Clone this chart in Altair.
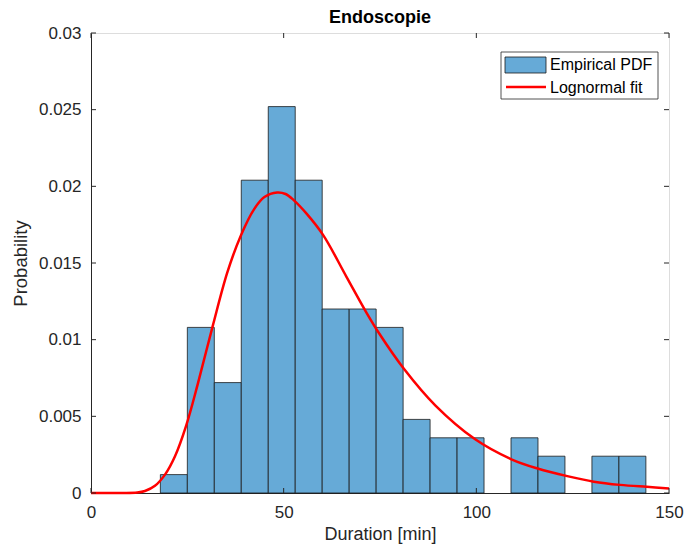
import altair as alt
import pandas as pd

# ---- data ----
bin_left = [18, 25, 32, 39, 46, 53, 60, 67, 74, 81, 88, 95, 102, 109, 116, 123, 130, 137]
bin_width = 7
pdf_values = [0.0012, 0.0108, 0.0072, 0.0204, 0.0252, 0.0204, 0.0120, 0.0120, 0.0108,
              0.0048, 0.0036, 0.0036, 0.0, 0.0036, 0.0024, 0.0, 0.0024, 0.0024]

fit_x = [0, 8, 12, 14, 16.6, 19.2, 21.8, 24.7, 27.7, 31.6, 35.4, 38.9, 42.3, 45, 48.3,
         50.5, 52.6, 56, 60.3, 66.3, 71.4, 74.8, 81.2, 89.4, 99.7, 109.1, 115.9, 123.6,
         130.5, 137.3, 144.2, 150]
fit_y = [0, 0, 0.00003, 0.00013, 0.00047, 0.0012, 0.0024, 0.0044, 0.0071, 0.0109, 0.0144,
         0.0168, 0.0185, 0.0193, 0.0196, 0.0195, 0.0191, 0.0182, 0.0168, 0.0141, 0.0118,
         0.0104, 0.0081, 0.0057, 0.0035, 0.0022, 0.0016, 0.0011, 0.00074, 0.00053, 0.0004,
         0.0003]

y_ticks = [0, 0.005, 0.01, 0.015, 0.02, 0.025, 0.03]
x_ticks = [0, 50, 100, 150]
legend_labels = ["Empirical PDF", "Lognormal fit"]

title_text = "Endoscopie"
x_title = "Duration [min]"
y_title = "Probability"

# ---- styling ----
FONT = "Liberation Sans"
AX = "#262626"
BAR = "#66AAD7"
RED = "#FF0000"
W, H = 578, 460
PAD_L, PAD_T = 83, 25
PAD_R = 676 - PAD_L - W
PAD_B = 536 - PAD_T - H

bars = pd.DataFrame({
    "x0": bin_left,
    "x1": [b + bin_width for b in bin_left],
    "p": pdf_values,
})
bars = bars[bars["p"] > 0]
fit = pd.DataFrame({"x": fit_x, "y": fit_y})

xscale = alt.Scale(domain=[0, 150], nice=False, zero=False, padding=0)
yscale = alt.Scale(domain=[0, 0.03], nice=False, padding=0)

x_axis = alt.Axis(values=x_ticks, ticks=False, grid=False, labelFontSize=17,
                  labelPadding=11, labelColor=AX, titleColor=AX, titleFontSize=18,
                  titleFontWeight="normal", titlePadding=5, domainColor=AX, labelFont=FONT,
                  titleFont=FONT, labelFlush=False)
y_axis = alt.Axis(values=y_ticks, ticks=False, grid=False, labelFontSize=17,
                  labelPadding=10, labelColor=AX, titleColor=AX, titleFontSize=18.5,
                  titleFontWeight="normal", titlePadding=8, domainColor=AX, labelFont=FONT,
                  titleFont=FONT, format="~g", labelFlush=False)

hist = alt.Chart(bars).mark_bar(fill=BAR, stroke="#1a1a1a", strokeWidth=0.8, opacity=1).encode(
    x=alt.X("x0:Q", scale=xscale, axis=x_axis, title=x_title),
    x2="x1:Q",
    y=alt.Y("p:Q", scale=yscale, axis=y_axis, title=y_title),
    y2=alt.datum(0),
)

line = alt.Chart(fit).mark_line(color=RED, strokeWidth=2.5, interpolate="catmull-rom").encode(
    x=alt.X("x:Q", scale=xscale),
    y=alt.Y("y:Q", scale=yscale),
)

# inward ticks (MATLAB style) on all four sides
yt = pd.DataFrame({"v": y_ticks})
xt = pd.DataFrame({"v": x_ticks})
ytick_l = alt.Chart(yt).mark_rule(color=AX, strokeWidth=1).encode(
    y=alt.Y("v:Q", scale=yscale), x=alt.value(0), x2=alt.value(5))
ytick_r = alt.Chart(yt).mark_rule(color=AX, strokeWidth=1).encode(
    y=alt.Y("v:Q", scale=yscale), x=alt.value(W - 5), x2=alt.value(W))
xtick_b = alt.Chart(xt).mark_rule(color=AX, strokeWidth=1).encode(
    x=alt.X("v:Q", scale=xscale), y=alt.value(H - 5), y2=alt.value(H))
xtick_t = alt.Chart(xt).mark_rule(color=AX, strokeWidth=1).encode(
    x=alt.X("v:Q", scale=xscale), y=alt.value(0), y2=alt.value(5))

# legend (positions in pixels relative to the plot area)
one = pd.DataFrame({"a": [0]})
leg_box = alt.Chart(one).mark_rect(fill="white", stroke=AX, strokeWidth=0.8).encode(
    x=alt.value(410), x2=alt.value(567), y=alt.value(19), y2=alt.value(66))
leg_swatch = alt.Chart(one).mark_rect(fill=BAR, stroke="#1a1a1a", strokeWidth=0.8).encode(
    x=alt.value(414), x2=alt.value(455), y=alt.value(24), y2=alt.value(40))
leg_line = alt.Chart(one).mark_rule(color=RED, strokeWidth=2.5).encode(
    x=alt.value(415), x2=alt.value(455), y=alt.value(54))
leg_df = pd.DataFrame({"label": legend_labels, "ypix": [32, 55]})
leg_text = alt.Chart(leg_df).mark_text(align="left", baseline="middle", fontSize=16,
                                       font=FONT, color="black").encode(
    x=alt.value(459), y=alt.Y("ypix:Q", scale=None), text="label:N")

chart = alt.layer(
    hist, line, ytick_l, ytick_r, xtick_b, xtick_t,
    leg_box, leg_swatch, leg_line, leg_text,
).properties(
    width=W, height=H,
    title=alt.TitleParams(title_text, fontSize=18, fontWeight="bold", font=FONT,
                          color="black", offset=-3, anchor="middle"),
    autosize=alt.AutoSizeParams(type="none"),
    padding={"left": PAD_L, "top": PAD_T, "right": PAD_R, "bottom": PAD_B},
).configure_view(
    stroke=AX, strokeWidth=1
).configure(font=FONT, background="white")

chart.save("out.html", embed_options={"renderer": "svg", "actions": False})
